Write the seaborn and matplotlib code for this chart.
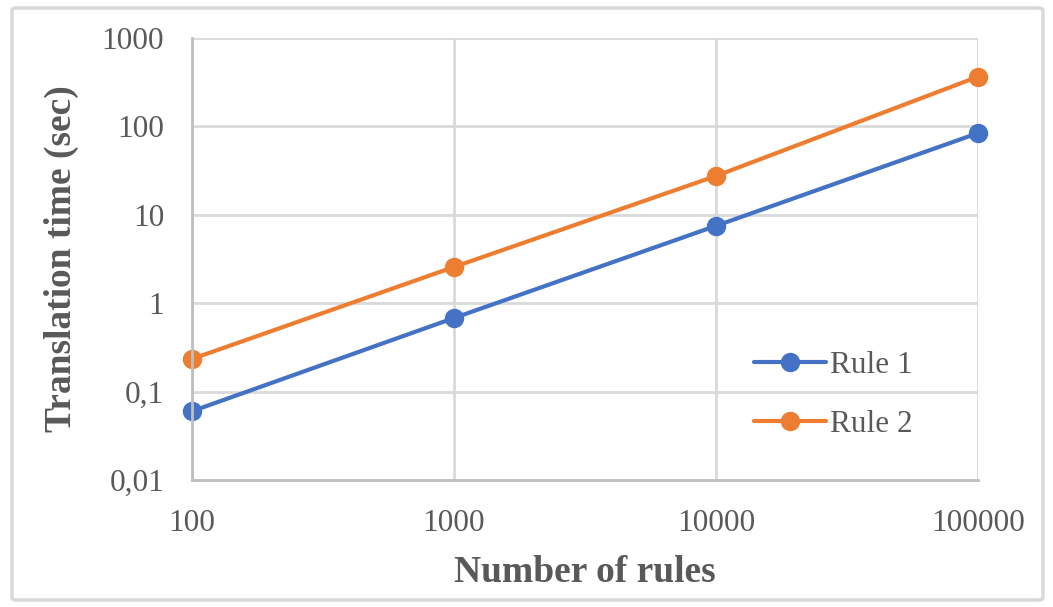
import pandas as pd
import matplotlib.pyplot as plt
import matplotlib.ticker as mticker
from matplotlib.patches import FancyBboxPatch
import seaborn as sns

# ===== DATA =====
rules = [100, 1000, 10000, 100000]
rule1_time = [0.060, 0.68, 7.5, 84]
rule2_time = [0.234, 2.57, 27.5, 365]
y_ticks = [0.01, 0.1, 1, 10, 100, 1000]
y_tick_labels = ["0,01", "0,1", "1", "10", "100", "1000"]
x_tick_labels = ["100", "1000", "10000", "100000"]

df = pd.DataFrame({
    "rules": rules * 2,
    "time": rule1_time + rule2_time,
    "series": ["Rule 1"] * 4 + ["Rule 2"] * 4,
})

# ===== STYLE =====
sns.set_style("white")
plt.rcParams["font.family"] = ["Liberation Serif", "DejaVu Serif"]

grid_c = "#D9D9D9"
text_c = "#595959"

fig = plt.figure(figsize=(10.53, 6.07), dpi=100)
ax = fig.add_axes([0.1823, 0.2092, 0.7465, 0.7282])

sns.lineplot(data=df, x="rules", y="time", hue="series",
             palette=["#4472C4", "#ED7D31"], marker="o", markersize=14,
             markeredgewidth=0, linewidth=3, ax=ax, clip_on=False)

ax.set_xscale("log")
ax.set_yscale("log")
ax.set_xlim(100, 100000)
ax.set_ylim(0.01, 1000)

ax.xaxis.set_major_locator(mticker.FixedLocator(rules))
ax.xaxis.set_major_formatter(mticker.FixedFormatter(x_tick_labels))
ax.xaxis.set_minor_locator(mticker.NullLocator())
ax.yaxis.set_major_locator(mticker.FixedLocator(y_ticks))
ax.yaxis.set_major_formatter(mticker.FixedFormatter(y_tick_labels))
ax.yaxis.set_minor_locator(mticker.NullLocator())

ax.grid(True, color=grid_c, linewidth=2)
ax.set_axisbelow(True)
for side in ["top", "right"]:
    ax.spines[side].set_visible(False)
for side in ["left", "bottom"]:
    ax.spines[side].set_color("#BFBFBF")
    ax.spines[side].set_linewidth(2)

ax.tick_params(axis="both", length=0, labelsize=22.5, labelcolor=text_c)
ax.tick_params(axis="x", pad=21)
ax.tick_params(axis="y", pad=20)

ax.set_xlabel("Number of rules", fontsize=27, fontweight="bold", color=text_c, labelpad=12)
ax.set_ylabel("Translation time (sec)", fontsize=27, fontweight="bold", color=text_c, labelpad=16)

leg = ax.legend(loc="lower right", bbox_to_anchor=(0.953, 0.03), frameon=False,
                fontsize=22.5, labelcolor=text_c, handlelength=2.3,
                handletextpad=0.15, labelspacing=0.95, title=None)

# chart border
fig.patches.append(FancyBboxPatch((12 / 1053, 7 / 607), 1031 / 1053, 592 / 607,
                                  boxstyle="round,pad=0,rounding_size=0.004",
                                  transform=fig.transFigure, fill=False,
                                  edgecolor=grid_c, linewidth=2.5))

plt.savefig("out.png", dpi=100)
plt.close()
